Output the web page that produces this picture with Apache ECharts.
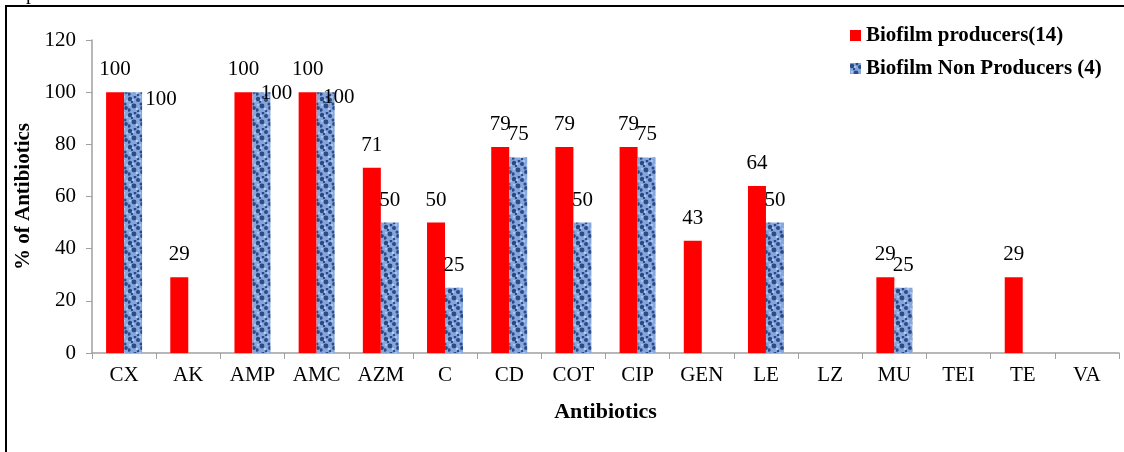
<!DOCTYPE html>
<html><head><meta charset="utf-8">
<script src="https://cdn.jsdelivr.net/npm/echarts@6/dist/echarts.min.js"></script>
<style>html,body{margin:0;padding:0;background:#fff}#c{width:1124px;height:452px}</style>
</head><body><div id="c"></div>
<script>
const categories = ['CX','AK','AMP','AMC','AZM','C','CD','COT','CIP','GEN','LE','LZ','MU','TEI','TE','VA'];
const producers = [100,29,100,100,71,50,79,79,79,43,64,0,29,0,29,0];
const nonProducers = [100,0,100,100,50,25,75,50,75,0,50,0,25,0,0,0];
const seriesNames = ['Biofilm producers(14)','Biofilm Non Producers (4)'];
const yTicks = [0,20,40,60,80,100,120];

// mottled texture for the blue series
function makeTexture(){
  const c = document.createElement('canvas'); c.width = 16; c.height = 16;
  const g = c.getContext('2d');
  g.fillStyle = '#86a7dd'; g.fillRect(0,0,16,16);
  g.fillStyle = '#2c4a86';
  const blobs = [[2,3,2.2],[10,4,2.0],[6,10,2.4],[14,12,1.9],[1,14,1.7],[7,1,1.4],[13,8,1.5],[4,6,1.2],[10,15,1.2]];
  blobs.forEach(b=>{g.beginPath();g.arc(b[0],b[1],b[2],0,Math.PI*2);g.fill();});
  g.fillStyle = '#b8cdf0';
  [[5,4,1.1],[12,1,1.0],[9,13,1.2],[15,5,0.9],[2,9,1.0]].forEach(b=>{g.beginPath();g.arc(b[0],b[1],b[2],0,Math.PI*2);g.fill();});
  return c;
}
const tex = makeTexture();

const FONT = 'Liberation Serif';
// manual label shifts (as in the original), by category index
const redShift = {};
const blueShift = {0:[28,30],2:[15,24],3:[13,28]};

function build(vals, shifts){
  return vals.map((v,i)=>{
    const o = {value: v};
    if (v === 0) o.label = {show:false};
    else if (shifts[i]) o.label = {show:true, offset: shifts[i]};
    return o;
  });
}

const chart = echarts.init(document.getElementById('c'));
chart.setOption({
  animation:false,
  textStyle:{fontFamily:FONT, color:'#000'},
  grid:{left:92,right:5,top:40,bottom:99},
  legend:{
    orient:'vertical', left:845, top:20, itemWidth:11, itemHeight:11, itemGap:12,
    textStyle:{fontFamily:FONT,fontSize:21,fontWeight:'bold',color:'#000'},
    data:[{name:seriesNames[0],icon:'rect'},{name:seriesNames[1],icon:'rect'}]
  },
  xAxis:{
    type:'category', data:categories,
    name:'Antibiotics', nameLocation:'middle', nameGap:48,
    nameTextStyle:{fontFamily:FONT,fontSize:22,fontWeight:'bold',color:'#000'},
    axisLine:{lineStyle:{color:'#a0a0a0',width:1.5}},
    axisTick:{show:true,length:6,lineStyle:{color:'#a0a0a0'}},
    axisLabel:{fontFamily:FONT,fontSize:21,color:'#000',margin:12}
  },
  yAxis:{
    type:'value', min:yTicks[0], max:yTicks[yTicks.length-1], interval:20,
    name:'% of Antibiotics', nameLocation:'middle', nameGap:57,
    nameTextStyle:{fontFamily:FONT,fontSize:21,fontWeight:'bold',color:'#000'},
    axisLine:{show:true,lineStyle:{color:'#a0a0a0',width:1.5}},
    axisTick:{show:true,length:6,lineStyle:{color:'#a0a0a0'}},
    axisLabel:{fontFamily:FONT,fontSize:21,color:'#000',margin:16},
    splitLine:{show:false}
  },
  series:[
    {name:seriesNames[0], type:'bar', data:build(producers,redShift), barWidth:18, barGap:'0%',
     itemStyle:{color:'#ff0000'},
     label:{show:true,position:'top',distance:12,fontFamily:FONT,fontSize:21,color:'#000'}},
    {name:seriesNames[1], type:'bar', data:build(nonProducers,blueShift), barWidth:18, barGap:'0%',
     itemStyle:{color:{image:tex,repeat:'repeat'}},
     label:{show:true,position:'top',distance:12,fontFamily:FONT,fontSize:21,color:'#000'}}
  ],
  graphic:[
    {type:'rect',shape:{x:6,y:6,width:1140,height:470},style:{fill:null,stroke:'#000',lineWidth:2},silent:true},
    {type:'text',left:26,top:-16,style:{text:'p',font:'20px "Liberation Serif"',fill:'#000'}}
  ]
});
</script></body></html>
